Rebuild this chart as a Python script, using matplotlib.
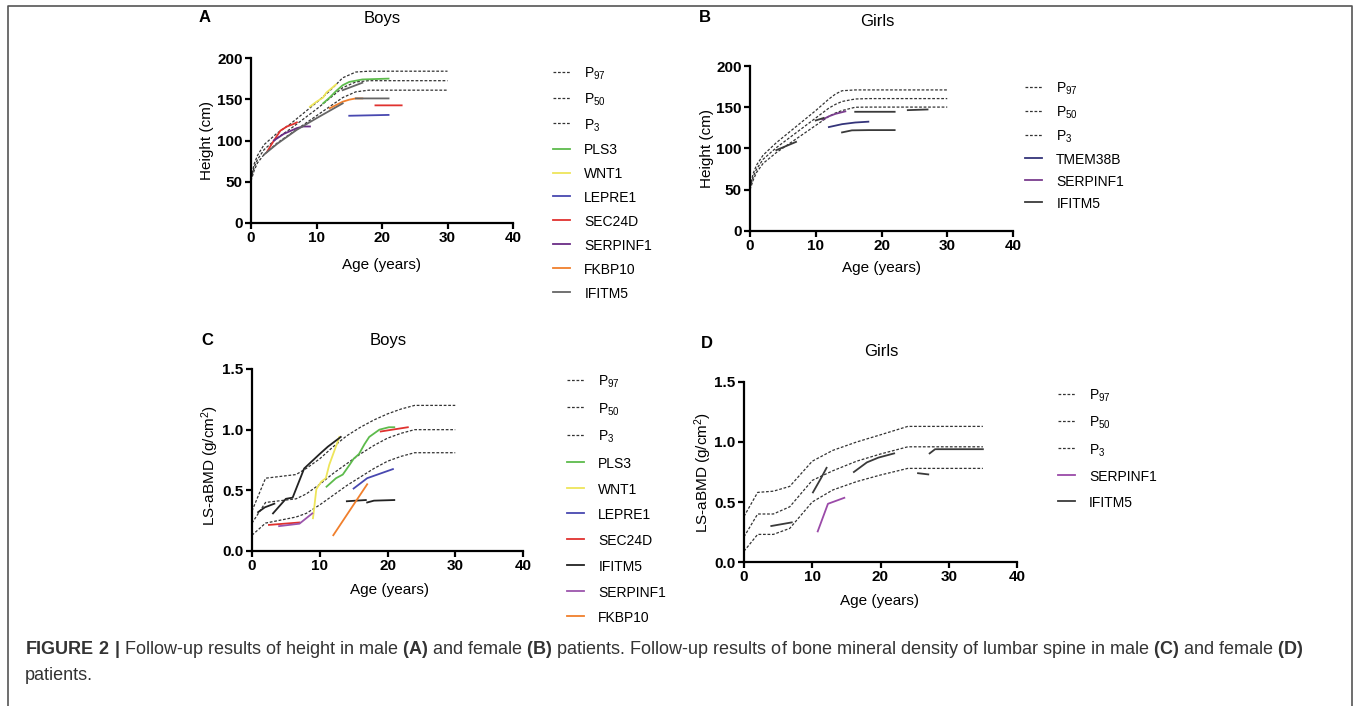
import numpy as np
import matplotlib.pyplot as plt
from matplotlib.lines import Line2D

plt.rcParams['font.family'] = ['Liberation Sans', 'DejaVu Sans']
plt.rcParams['mathtext.fontset'] = 'custom'
plt.rcParams['mathtext.rm'] = 'Liberation Sans'
plt.rcParams['mathtext.bf'] = 'Liberation Sans:bold'
plt.rcParams['mathtext.default'] = 'regular'

nan = np.nan
W, H = 1357, 706

# ---- A: height, boys ----
a_age = [0, 0.5, 1, 2, 3, 4, 6, 8, 10, 12, 14, 16, 18, 30]
a_p97 = [55, 72, 82, 95, 102, 109, 120, 133, 146, 160, 176, 183, 184, 184]
a_p50 = [53, 68, 77, 89, 96, 103, 114, 126, 138, 151, 164, 171, 172.5, 172.5]
a_p3 = [51, 64, 73, 83, 90, 97, 108, 119, 130, 141, 152, 159, 161, 161]

a_pls3_x = [11, 12, 13, 14, 15, 17, 21]
a_pls3_y = [145, 152, 160, 167, 171, 174, 175]
a_wnt1_x = [9, 10, 11, 11.5, 13]
a_wnt1_y = [141, 147, 152, 158, 168]
a_lepre1_x = [15, 21]
a_lepre1_y = [130, 131]
a_sec24d_x = [2.5, 3.5, 4.5, 5.5, 6.5, 7, nan, 19, 23]
a_sec24d_y = [87, 100, 112, 117, 120, 122, nan, 142.6, 142.6]
a_serpinf1_x = [3.5, 5, 7, 8, 9]
a_serpinf1_y = [100, 108, 115, 117, 117]
a_fkbp10_x = [12, 13, 14, 15, 16, 17]
a_fkbp10_y = [139, 143, 147, 149.5, 151, 151]
a_ifitm5_x = [2, 4, 7, 10, 14, nan, 16, 21, nan, 14, 17]
a_ifitm5_y = [83, 96, 113, 127, 145, nan, 151, 151, nan, 161, 170]

# ---- B: height, girls ----
b_age = [0, 0.5, 1, 2, 4, 6, 8, 10, 12, 13, 14, 16, 18, 30]
b_p97 = [54, 70, 80, 92, 107, 120, 133, 146, 160, 166, 170, 171, 171, 171]
b_p50 = [52, 66, 75, 87, 101, 113, 125, 137, 149, 153.5, 157, 160, 160.5, 160.5]
b_p3 = [50, 62, 71, 82, 95, 106, 117, 128, 139, 143, 146, 150, 150.2, 150.2]

b_tmem38b_x = [12, 14, 16, 18]
b_tmem38b_y = [126, 129.5, 131.5, 132.5]
b_serpinf1_x = [11, 12, 13, 14.5]
b_serpinf1_y = [135, 139, 142, 145]
b_ifitm5_x = [4, 5.5, 7, nan, 10, 11.2, nan, 14, 15.5, 18, 22, nan, 16, 22, nan, 24, 27]
b_ifitm5_y = [98, 103, 108, nan, 134, 137, nan, 119.5, 122, 122.3, 122.3, nan, 144.5, 144.5, nan, 146.5, 147.3]

# ---- C: LS-aBMD, boys ----
c_age = [0, 2, 6.5, 8, 10, 12, 14, 16, 18, 20, 22, 24, 30]
c_p97 = [0.33, 0.60, 0.63, 0.68, 0.76, 0.86, 0.95, 1.02, 1.08, 1.13, 1.17, 1.20, 1.20]
c_p50 = [0.23, 0.40, 0.43, 0.47, 0.55, 0.64, 0.72, 0.80, 0.87, 0.93, 0.97, 1.00, 1.00]
c_p3 = [0.13, 0.23, 0.28, 0.31, 0.38, 0.46, 0.54, 0.61, 0.68, 0.74, 0.78, 0.81, 0.81]

c_pls3_x = [11, 12.4, 13.4, 14.4, 15, 15.8, 16.6, 17.3, 18.8, 20.2, 21]
c_pls3_y = [0.53, 0.60, 0.63, 0.71, 0.76, 0.80, 0.88, 0.94, 1.00, 1.02, 1.02]
c_wnt1_x = [9, 9.5, 10.2, 10.9, 11.4, 12.9]
c_wnt1_y = [0.27, 0.51, 0.57, 0.60, 0.71, 0.94]
c_lepre1_x = [15, 17, 20.8]
c_lepre1_y = [0.515, 0.60, 0.675]
c_sec24d_x = [2.5, 7, nan, 19, 23]
c_sec24d_y = [0.215, 0.235, nan, 0.985, 1.02]
c_ifitm5_x = [0.9, 1.9, 3.3, nan, 3.1, 5, 6, 7.7, 10, 11.2, 13.1, nan, 14, 16.8, nan, 17, 18, 21]
c_ifitm5_y = [0.32, 0.36, 0.39, nan, 0.31, 0.43, 0.44, 0.68, 0.80, 0.86, 0.94, nan, 0.41, 0.42, nan, 0.40, 0.415, 0.42]
c_serpinf1_x = [4, 7, 8.9]
c_serpinf1_y = [0.205, 0.225, 0.31]
c_fkbp10_x = [12, 17]
c_fkbp10_y = [0.13, 0.55]

# ---- D: LS-aBMD, girls ----
d_age = [0, 2, 4.3, 6.7, 10, 13, 16.5, 20, 24, 35]
d_p97 = [0.38, 0.58, 0.59, 0.63, 0.84, 0.93, 1.00, 1.06, 1.13, 1.13]
d_p50 = [0.21, 0.40, 0.40, 0.46, 0.68, 0.76, 0.84, 0.90, 0.96, 0.96]
d_p3 = [0.09, 0.23, 0.23, 0.28, 0.50, 0.60, 0.67, 0.725, 0.78, 0.78]

d_serpinf1_x = [10.8, 12.3, 14.7]
d_serpinf1_y = [0.255, 0.485, 0.535]
d_ifitm5_x = [4, 7, nan, 10.1, 11.3, 12.1, nan, 16.1, 18, 19.7, 22, nan, 25.5, 27, nan, 27.2, 28, 35]
d_ifitm5_y = [0.30, 0.33, nan, 0.58, 0.70, 0.785, nan, 0.75, 0.83, 0.87, 0.905, nan, 0.74, 0.73, nan, 0.905, 0.94, 0.94]

GREEN = '#5dbb4c'
YELLOW = '#eee55a'
BLUE = '#4848b0'
RED = '#e0322f'
PURPLE = '#6a2c86'
ORANGE = '#f07f2c'
DARK = '#3a3a3a'


def px(x, y):
    return x / W, 1 - y / H


def make_axes(fig, x0, x1, y0, y1):
    l, b = px(x0, y1)
    ax = fig.add_axes([l, b, (x1 - x0) / W, (y1 - y0) / H])
    for s in ['top', 'right']:
        ax.spines[s].set_visible(False)
    for s in ['left', 'bottom']:
        ax.spines[s].set_linewidth(1.6)
    ax.tick_params(width=1.6, length=4, labelsize=11, pad=2)
    return ax


def draw(ax, age, p97, p50, p3, series):
    ls = (0, (2.2, 1.4))
    ax.plot(age, p97, color='#333333', lw=0.9, ls=ls, label='P$_{97}$')
    ax.plot(age, p50, color='#333333', lw=0.9, ls=ls, label='P$_{50}$')
    ax.plot(age, p3, color='#333333', lw=0.9, ls=ls, label='P$_{3}$')
    for label, color, x, y in series:
        ax.plot(x, y, color=color, lw=1.3, label=label)
    ax.set_xlim(0, 40)
    ax.set_xticks([0, 10, 20, 30, 40])
    for t in ax.get_xticklabels() + ax.get_yticklabels():
        t.set_fontweight('bold')


def legend(ax, fig, x, y, spacing):
    ax.legend(loc='upper left', bbox_to_anchor=px(x, y), bbox_transform=fig.transFigure,
              frameon=False, fontsize=10, handlelength=1.25, handleheight=1.19,
              handletextpad=1.0, labelspacing=spacing, borderpad=0, borderaxespad=0)


fig = plt.figure(figsize=(W / 100, H / 100), dpi=100)

# A
axA = make_axes(fig, 251, 513, 58, 223)
axA.set_ylim(0, 200)
axA.set_yticks([0, 50, 100, 150, 200])
draw(axA, a_age, a_p97, a_p50, a_p3, [
    ('PLS3', GREEN, a_pls3_x, a_pls3_y),
    ('WNT1', YELLOW, a_wnt1_x, a_wnt1_y),
    ('LEPRE1', BLUE, a_lepre1_x, a_lepre1_y),
    ('SEC24D', RED, a_sec24d_x, a_sec24d_y),
    ('SERPINF1', PURPLE, a_serpinf1_x, a_serpinf1_y),
    ('FKBP10', ORANGE, a_fkbp10_x, a_fkbp10_y),
    ('IFITM5', '#666666', a_ifitm5_x, a_ifitm5_y),
])
legend(axA, fig, 553, 66, 0.66)

# B
axB = make_axes(fig, 750, 1013, 66, 231)
axB.set_ylim(0, 200)
axB.set_yticks([0, 50, 100, 150, 200])
draw(axB, b_age, b_p97, b_p50, b_p3, [
    ('TMEM38B', '#34347a', b_tmem38b_x, b_tmem38b_y),
    ('SERPINF1', '#7a3d8e', b_serpinf1_x, b_serpinf1_y),
    ('IFITM5', DARK, b_ifitm5_x, b_ifitm5_y),
])
legend(axB, fig, 1025, 81, 0.53)

# C
axC = make_axes(fig, 252, 523, 369, 551)
axC.set_ylim(0, 1.5)
axC.set_yticks([0, 0.5, 1.0, 1.5])
axC.set_yticklabels(['0.0', '0.5', '1.0', '1.5'])
draw(axC, c_age, c_p97, c_p50, c_p3, [
    ('PLS3', GREEN, c_pls3_x, c_pls3_y),
    ('WNT1', YELLOW, c_wnt1_x, c_wnt1_y),
    ('LEPRE1', BLUE, c_lepre1_x, c_lepre1_y),
    ('SEC24D', RED, c_sec24d_x, c_sec24d_y),
    ('IFITM5', '#222222', c_ifitm5_x, c_ifitm5_y),
    ('SERPINF1', '#9c55ac', c_serpinf1_x, c_serpinf1_y),
    ('FKBP10', ORANGE, c_fkbp10_x, c_fkbp10_y),
])
legend(axC, fig, 567, 374, 0.79)

# D
axD = make_axes(fig, 744, 1017, 382, 562)
axD.set_ylim(0, 1.5)
axD.set_yticks([0, 0.5, 1.0, 1.5])
axD.set_yticklabels(['0.0', '0.5', '1.0', '1.5'])
draw(axD, d_age, d_p97, d_p50, d_p3, [
    ('SERPINF1', '#9a4aa8', d_serpinf1_x, d_serpinf1_y),
    ('IFITM5', DARK, d_ifitm5_x, d_ifitm5_y),
])
legend(axD, fig, 1058, 388, 0.77)

# panel letters, titles, axis labels
for letter, x, y in [('A', 205, 18), ('B', 705, 18), ('C', 207, 341), ('D', 707, 343)]:
    fig.text(*px(x, y), letter, fontsize=12, fontweight='bold', ha='center', va='center')
for title, x, y in [('Boys', 382, 18), ('Girls', 877, 22), ('Boys', 388, 340), ('Girls', 881, 352)]:
    fig.text(*px(x, y), title, fontsize=12, ha='center', va='center')
for x, y in [(382, 265), (882, 268), (389, 590), (880, 601)]:
    fig.text(*px(x, y), 'Age (years)', fontsize=11, ha='center', va='center')
for lab, x, y in [('Height (cm)', 207, 140), ('Height (cm)', 707, 148),
                  ('LS-aBMD (g/cm$^{2}$)', 210, 465), ('LS-aBMD (g/cm$^{2}$)', 703, 472)]:
    fig.text(*px(x, y), lab, fontsize=11, rotation=90, ha='center', va='center')

# caption
cap1 = (r'$\mathbf{FIGURE\ 2\ |}$ Follow-up results of height in male $\mathbf{(A)}$ and female '
        r'$\mathbf{(B)}$ patients. Follow-up results of bone mineral density of lumbar spine in male '
        r'$\mathbf{(C)}$ and female $\mathbf{(D)}$')
fig.text(*px(25, 649), cap1, fontsize=13, color='#333333', ha='left', va='center')
fig.text(*px(25, 675), 'patients.', fontsize=13, color='#333333', ha='left', va='center')

# frame around figure
fx0, fx1 = 8 / W, 1352 / W
fy0, fy1 = 0.0, 1 - 6 / H
fig.add_artist(Line2D([fx0, fx0, fx1, fx1], [fy0, fy1, fy1, fy0], color='#555555', lw=1.2,
                      transform=fig.transFigure))

fig.savefig('out.png', dpi=100)
